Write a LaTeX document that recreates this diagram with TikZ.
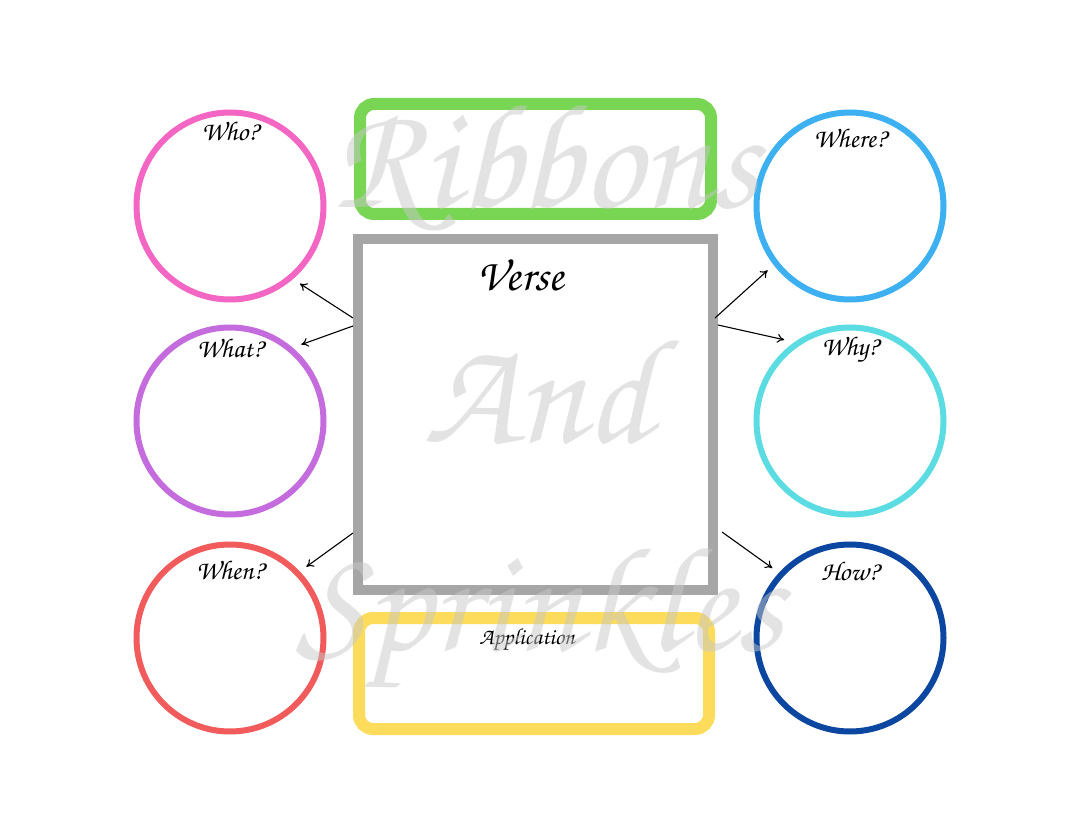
\documentclass[tikz,border=0pt]{standalone}
\usepackage[T1]{fontenc}
\usetikzlibrary{arrows.meta}
\definecolor{cpink}{HTML}{F366C3}
\definecolor{cpurple}{HTML}{C46BDD}
\definecolor{cred}{HTML}{F15B5B}
\definecolor{cblue}{HTML}{3DB0F2}
\definecolor{ccyan}{HTML}{5ADCE2}
\definecolor{cdark}{HTML}{0B47A1}
\definecolor{cgreen}{HTML}{78D654}
\definecolor{cyellow}{HTML}{FCDC5A}
\definecolor{cgray}{HTML}{A6A6A6}
\definecolor{cwm}{HTML}{C8C8C8}
\newcommand{\scr}{\usefont{T1}{pzc}{mb}{it}}
\begin{document}
\begin{tikzpicture}[x=1pt,y=-1pt,
  ring/.style={circle,draw=#1,line width=6pt,minimum size=187pt,inner sep=0pt,outer sep=11pt},
  lbl/.style={font=\scr\fontsize{27}{27}\selectfont,text=black,inner sep=0pt},
  wm/.style={font=\scr\fontsize{150}{150}\selectfont,text=cwm,opacity=0.5,inner sep=0pt},
  arr/.style={-{To[length=7pt,width=9pt]},line width=1.1pt,black}]
\fill[white] (0,0) rectangle (1080,834);
\useasboundingbox (0,0) rectangle (1080,834);
% circles
\node[ring=cpink]   (who)   at (230,206) {};
\node[ring=cpurple] (what)  at (230,421) {};
\node[ring=cred]    (when)  at (230,638) {};
\node[ring=cblue]   (where) at (850,206) {};
\node[ring=ccyan]   (why)   at (850,421) {};
\node[ring=cdark]   (how)   at (850,638) {};
% boxes
\node[draw=cgreen,line width=12pt,rounded corners=14pt,minimum width=351pt,minimum height=110pt,inner sep=0pt] (title) at (535.5,159) {};
\node[draw=cgray,line width=10pt,minimum width=355pt,minimum height=351pt,inner sep=0pt] (verse) at (535.5,414.5) {};
\node[draw=cyellow,line width=12pt,rounded corners=14pt,minimum width=350pt,minimum height=111pt,inner sep=0pt] (app) at (534,673.5) {};
% labels
\node[lbl] (lwho)   at (230,131) {Who?};
\node[lbl] (lwhat)  at (230,348) {What?};
\node[lbl] (lwhen)  at (230,570) {When?};
\node[lbl] (lwhere) at (850,138) {Where?};
\node[lbl] (lwhy)   at (850,350) {Why?};
\node[lbl] (lhow)   at (850,571) {How?};
\node[lbl,font=\scr\fontsize{45}{45}\selectfont] (lverse) at (521,275) {Verse};
\node[lbl,font=\scr\fontsize{23}{23}\selectfont] (lapp) at (527,640) {Application};
% arrows
\draw[arr] ([yshift=96.5pt]verse.west) -- (who.-48.5);
\draw[arr] ([yshift=88.5pt]verse.west) -- (what.47);
\draw[arr] ([yshift=-118.5pt]verse.west) -- (when.43.8);
\draw[arr] ([yshift=96.5pt,xshift=-3pt]verse.east) -- (where.-142.5);
\draw[arr] ([yshift=89.5pt]verse.east) -- (why.129.7);
\draw[arr] ([yshift=-117.5pt,xshift=4pt]verse.east) -- (how.138.5);
% watermark
\node[wm] (wm1) at (545,168) {Ribbons};
\node[wm] (wm2) at (537,390) {And};
\node[wm] (wm3) at (540,620) {Sprinkles};
\end{tikzpicture}
\end{document}
